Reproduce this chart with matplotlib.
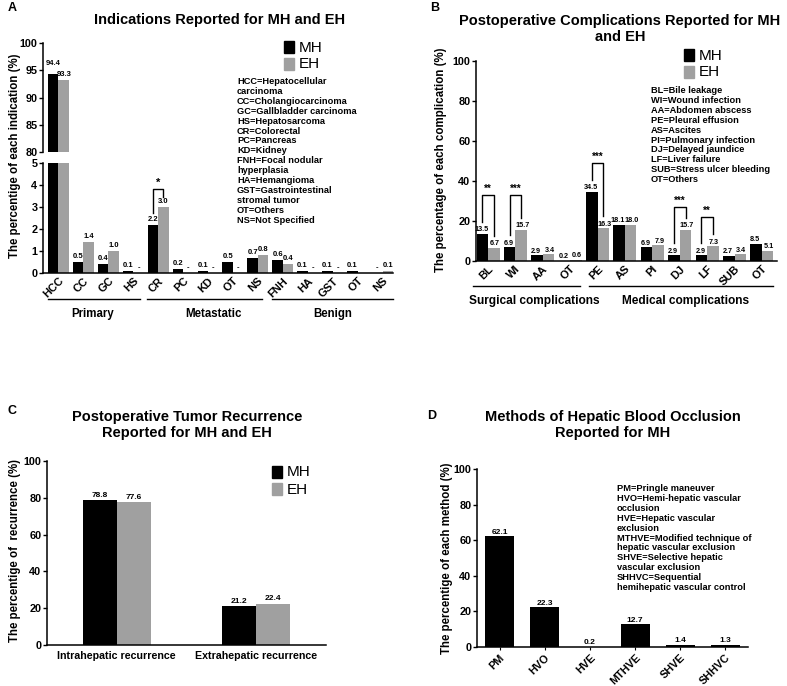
import numpy as np
import matplotlib
matplotlib.use("Agg")
import matplotlib.pyplot as plt
from matplotlib.transforms import blended_transform_factory

plt.rcParams['font.family'] = ['Liberation Sans', 'DejaVu Sans']
plt.rcParams['font.weight'] = 'bold'

# ---------------- data ----------------
# Panel A (None -> "-" label, value 0; "" -> no label)
a_cats = ["HCC", "CC", "GC", "HS", "CR", "PC", "KD", "OT", "NS", "FNH", "HA", "GST", "OT", "NS"]
a_mh = [94.4, 0.5, 0.4, 0.1, 2.2, 0.2, 0.1, 0.5, 0.7, 0.6, 0.1, 0.1, 0.1, None]
a_eh = [93.3, 1.4, 1.0, None, 3.0, None, None, None, 0.8, 0.4, None, None, "", 0.1]
a_groups = ["Primary", "Metastatic", "Benign"]
a_legend = ("HCC=Hepatocellular\ncarcinoma\nCC=Cholangiocarcinoma\nGC=Gallbladder carcinoma\n"
            "HS=Hepatosarcoma\nCR=Colorectal\nPC=Pancreas\nKD=Kidney\nFNH=Focal nodular\n"
            "hyperplasia\nHA=Hemangioma\nGST=Gastrointestinal\nstromal tumor\nOT=Others\nNS=Not Specified")

# Panel B
b_cats = ["BL", "WI", "AA", "OT", "PE", "AS", "PI", "DJ", "LF", "SUB", "OT"]
b_mh = [13.5, 6.9, 2.9, 0.2, 34.5, 18.1, 6.9, 2.9, 2.9, 2.7, 8.5]
b_eh = [6.7, 15.7, 3.4, 0.6, 16.3, 18.0, 7.9, 15.7, 7.3, 3.4, 5.1]
b_groups = ["Surgical complications", "Medical complications"]
b_sig_idx = [0, 1, 4, 7, 8]
b_sig_txt = ["**", "***", "***", "***", "**"]
b_sig_top = [33, 33, 49, 27, 22]
b_legend = ("BL=Bile leakage\nWI=Wound infection\nAA=Abdomen abscess\nPE=Pleural effusion\n"
            "AS=Ascites\nPI=Pulmonary infection\nDJ=Delayed jaundice\nLF=Liver failure\n"
            "SUB=Stress ulcer bleeding\nOT=Others")

# Panel C
c_cats = ["Intrahepatic recurrence", "Extrahepatic recurrence"]
c_mh = [78.8, 21.2]
c_eh = [77.6, 22.4]

# Panel D
d_cats = ["PM", "HVO", "HVE", "MTHVE", "SHVE", "SHHVC"]
d_mh = [62.1, 22.3, 0.2, 12.7, 1.4, 1.3]
d_legend = ("PM=Pringle maneuver\nHVO=Hemi-hepatic vascular\nocclusion\nHVE=Hepatic vascular\n"
            "exclusion\nMTHVE=Modified technique of\nhepatic vascular exclusion\nSHVE=Selective hepatic\n"
            "vascular exclusion\nSHHVC=Sequential\nhemihepatic vascular control")

BLACK = "#000000"
GREY = "#a0a0a0"
W, H = 787, 686
fig = plt.figure(figsize=(W / 100, H / 100), dpi=100)

YLAB_FS = 8.3
ABBR_FS = 6.7
ABBR_LS = 1.13


def px_axes(x0, y0, x1, y1):
    return fig.add_axes([x0 / W, 1 - y1 / H, (x1 - x0) / W, (y1 - y0) / H])


def style(ax, bottom=True):
    for s in ["top", "right"]:
        ax.spines[s].set_visible(False)
    ax.spines["left"].set_linewidth(1.1)
    ax.spines["bottom"].set_linewidth(1.1)
    if not bottom:
        ax.spines["bottom"].set_visible(False)
    ax.tick_params(axis="y", length=3, width=1, labelsize=7.8, pad=1)
    ax.tick_params(axis="x", length=0, labelsize=8, pad=2)
    ax.set_facecolor("none")


def ftext(x, y, s, **kw):
    fig.text(x / W, 1 - y / H, s, **kw)


def legend_mh_eh(x, y, fs=11, gap=17):
    items = [("MH", BLACK), ("EH", GREY)]
    for k, (lab, col) in enumerate(items):
        yy = y + k * gap
        fig.patches.append(plt.Rectangle((x / W, 1 - (yy + 6) / H), 10 / W, 12 / H,
                                         transform=fig.transFigure, color=col))
        ftext(x + 15, yy + 0.5, lab, fontsize=fs, fontweight="normal", va="center", ha="left")


def val_label(ax, x, v, fs=5.5, dy=1.5):
    if v is None:
        txt, v = "-", 0
    elif v == "":
        return
    else:
        txt = f"{v:.1f}"
    ax.annotate(txt, (x, v), xytext=(0, dy), textcoords="offset points",
                ha="center", va="bottom", fontsize=fs, fontweight="bold", clip_on=False)


def num(v):
    return 0 if (v is None or v == "") else v

# ---------------- Panel A ----------------
bw = 0.42
xa = np.arange(len(a_cats))
ax_up = px_axes(43, 43, 393, 152)
ax_lo = px_axes(43, 163, 393, 273)
for ax, yl in [(ax_up, (80, 100)), (ax_lo, (0, 5))]:
    ax.bar(xa - bw / 2, [num(v) for v in a_mh], bw, color=BLACK)
    ax.bar(xa + bw / 2, [num(v) for v in a_eh], bw, color=GREY)
    ax.set_ylim(*yl)
    ax.set_xlim(-0.62, 13.42)
style(ax_up, bottom=False)
style(ax_lo)
ax_up.set_xticks([])
ax_up.set_yticks([80, 85, 90, 95, 100])
ax_lo.set_yticks([0, 1, 2, 3, 4, 5])
ax_lo.set_xticks(xa)
ax_lo.set_xticklabels(a_cats, rotation=45, ha="right", rotation_mode="anchor", fontweight="bold")
for i in range(len(a_cats)):
    if i == 0:
        val_label(ax_up, xa[i] - bw / 2, a_mh[i], fs=5.5, dy=5)
        val_label(ax_up, xa[i] + bw / 2, a_eh[i], fs=5.5, dy=1)
    else:
        val_label(ax_lo, xa[i] - bw / 2, a_mh[i])
        val_label(ax_lo, xa[i] + bw / 2, a_eh[i])
# significance on CR
i = 4
ax_lo.plot([i - bw / 2, i - bw / 2, i + bw / 2, i + bw / 2], [2.75, 3.8, 3.8, 3.45], color="k", lw=1)
ax_lo.text(i, 3.85, "*", ha="center", va="bottom", fontsize=8)

trA = blended_transform_factory(ax_lo.transData, fig.transFigure)
a_line_ext = [(-0.42, 3.28), (3.56, 8.18), (8.58, 13.4)]
a_label_x = [1.35, 6.2, 11.0]
for g, (l0, l1), cx in zip(a_groups, a_line_ext, a_label_x):
    ax_lo.plot([l0, l1], [1 - 299 / H] * 2, color="k", lw=1, transform=trA, clip_on=False)
    ax_lo.text(cx, 1 - 314 / H, g, transform=trA, ha="center", va="center",
               fontsize=8.3, fontweight="bold")
ftext(15, 156, "The percentige of each indication (%)", rotation=90, ha="center", va="center",
      fontsize=YLAB_FS, fontweight="bold")
ftext(220, 20, "Indications Reported for MH and EH", ha="center", va="center", fontsize=10.5,
      fontweight="bold")
ftext(8, 8, "A", fontsize=9, fontweight="bold", va="center")
legend_mh_eh(284, 47)
ftext(237, 77, a_legend, fontsize=ABBR_FS, fontweight="bold", va="top", ha="left",
      linespacing=ABBR_LS)

# ---------------- Panel B ----------------
xb = np.arange(len(b_cats))
axb = px_axes(476, 61, 777, 261)
axb.bar(xb - bw / 2, b_mh, bw, color=BLACK)
axb.bar(xb + bw / 2, b_eh, bw, color=GREY)
axb.set_ylim(0, 100)
axb.set_xlim(-0.44, 10.55)
style(axb)
axb.set_yticks([0, 20, 40, 60, 80, 100])
axb.set_xticks(xb)
axb.set_xticklabels(b_cats, rotation=45, ha="right", rotation_mode="anchor", fontweight="bold")
for i in range(len(b_cats)):
    val_label(axb, xb[i] - bw / 2 - 0.04, b_mh[i], fs=5.2, dy=0.5)
    val_label(axb, xb[i] + bw / 2 + 0.04, b_eh[i], fs=5.2, dy=0.5)
for idx, t, top in zip(b_sig_idx, b_sig_txt, b_sig_top):
    l = xb[idx] - bw / 2
    r = xb[idx] + bw / 2
    axb.plot([l, l, r, r], [b_mh[idx] + 6, top, top, b_eh[idx] + 6], color="k", lw=1)
    axb.text(xb[idx], top + 0.5, t, ha="center", va="bottom", fontsize=7)
trB = blended_transform_factory(axb.transData, fig.transFigure)
b_line_ext = [(-0.55, 3.36), (3.69, 10.4)]
b_label_x = [1.7, 7.2]
for g, (l0, l1), cx in zip(b_groups, b_line_ext, b_label_x):
    axb.plot([l0, l1], [1 - 286 / H] * 2, color="k", lw=1, transform=trB, clip_on=False)
    axb.text(cx, 1 - 301 / H, g, transform=trB, ha="center", va="center", fontsize=8.6,
             fontweight="bold")
ftext(441, 160, "The percentage of each complication (%)", rotation=90, ha="center", va="center",
      fontsize=YLAB_FS, fontweight="bold")
ftext(620, 29, "Postoperative Complications Reported for MH\nand EH", ha="center", va="center",
      fontsize=10.5, fontweight="bold", linespacing=1.2)
ftext(430, 8, "B", fontsize=9, fontweight="bold", va="center")
legend_mh_eh(684, 55)
ftext(651, 86, b_legend, fontsize=ABBR_FS, fontweight="bold", va="top", ha="left",
      linespacing=ABBR_LS)

# ---------------- Panel C ----------------
xc = np.arange(len(c_cats))
bwc = 0.245
axc = px_axes(47, 461, 326, 645)
axc.bar(xc - bwc / 2, c_mh, bwc, color=BLACK)
axc.bar(xc + bwc / 2, c_eh, bwc, color=GREY)
axc.set_ylim(0, 100)
axc.set_xlim(-0.5, 1.5)
style(axc)
axc.set_yticks([0, 20, 40, 60, 80, 100])
axc.set_xticks(xc)
axc.set_xticklabels(c_cats, fontweight="bold")
axc.tick_params(axis="x", labelsize=7.7, pad=4)
for i in range(len(c_cats)):
    val_label(axc, xc[i] - bwc / 2, c_mh[i], fs=6, dy=1)
    val_label(axc, xc[i] + bwc / 2, c_eh[i], fs=6, dy=1)
ftext(15, 551, "The percentige of  recurrence (%)", rotation=90, ha="center", va="center",
      fontsize=YLAB_FS, fontweight="bold")
ftext(187, 425, "Postoperative Tumor Recurrence\nReported for MH and EH", ha="center",
      va="center", fontsize=10.5, fontweight="bold", linespacing=1.15)
ftext(8, 411, "C", fontsize=9, fontweight="bold", va="center")
legend_mh_eh(272, 472)

# ---------------- Panel D ----------------
xd = np.arange(len(d_cats))
axd = px_axes(477, 469, 748, 647)
axd.bar(xd, d_mh, 0.64, color=BLACK)
axd.set_ylim(0, 100)
axd.set_xlim(-0.5, 5.5)
style(axd)
axd.set_yticks([0, 20, 40, 60, 80, 100])
axd.set_xticks(xd)
axd.set_xticklabels(d_cats, rotation=45, ha="right", rotation_mode="anchor", fontweight="bold")
axd.tick_params(axis="x", labelsize=7.8, length=2)
for i in range(len(d_cats)):
    val_label(axd, xd[i], d_mh[i], fs=6, dy=0.5)
ftext(447, 558, "The percentige of each method (%)", rotation=90, ha="center", va="center",
      fontsize=YLAB_FS, fontweight="bold")
ftext(613, 425, "Methods of Hepatic Blood Occlusion\nReported for MH", ha="center", va="center",
      fontsize=10.5, fontweight="bold", linespacing=1.15)
ftext(427, 416, "D", fontsize=9, fontweight="bold", va="center")
ftext(617, 484, d_legend, fontsize=ABBR_FS, fontweight="bold", va="top", ha="left",
      linespacing=ABBR_LS)

fig.savefig("out.png", dpi=100)
